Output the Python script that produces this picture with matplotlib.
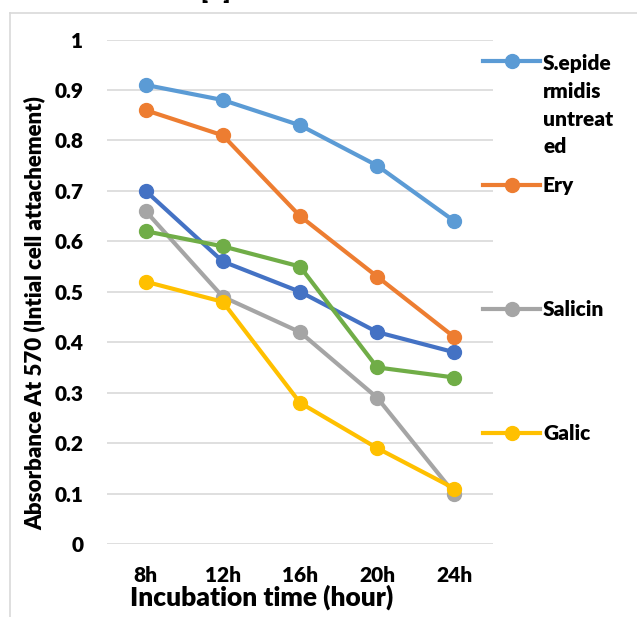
import matplotlib
matplotlib.use('Agg')
import matplotlib.pyplot as plt
from matplotlib.lines import Line2D

plt.rcParams['font.family'] = ['Lato', 'DejaVu Sans']
plt.rcParams['font.weight'] = 'heavy'

# data
hours = ['8h', '12h', '16h', '20h', '24h']
s_epidermidis = [0.91, 0.88, 0.83, 0.75, 0.64]
ery = [0.86, 0.81, 0.65, 0.53, 0.41]
dark_blue_series = [0.70, 0.56, 0.50, 0.42, 0.38]
salicin = [0.66, 0.49, 0.42, 0.29, 0.10]
green_series = [0.62, 0.59, 0.55, 0.35, 0.33]
galic = [0.52, 0.48, 0.28, 0.19, 0.11]

legend_labels = ['S.epide\nrmidis\nuntreat\ned', 'Ery', 'Salicin', 'Galic']
legend_colors = ['#5B9BD5', '#ED7D31', '#A5A5A5', '#FFC000']

W, H = 637, 617
fig = plt.figure(figsize=(W / 100, H / 100), dpi=100)
ax = fig.add_axes([107 / W, 73 / H, 386 / W, 504.5 / H])

x = range(len(hours))
series = [(dark_blue_series, '#4472C4'), (ery, '#ED7D31'), (salicin, '#A5A5A5'),
          (galic, '#FFC000'), (s_epidermidis, '#5B9BD5'), (green_series, '#70AD47')]
for i, (vals, col) in enumerate(series):
    ax.plot(x, vals, color=col, lw=3, marker='o', ms=10, clip_on=False, zorder=3 + i)

ax.set_xlim(-0.5, len(hours) - 0.5)
ax.set_ylim(0, 1)
ax.set_yticks([i / 10 for i in range(11)])
ax.set_yticklabels(['0'] + ['0.%d' % i for i in range(1, 10)] + ['1'])
ax.set_xticks(list(x))
ax.set_xticklabels(hours)
ax.tick_params(axis='both', length=0, labelsize=15)
ax.tick_params(axis='y', pad=17)
ax.tick_params(axis='x', pad=16)
ax.grid(axis='y', color='#D9D9D9', lw=1.2)
ax.set_axisbelow(True)
for sp in ax.spines.values():
    sp.set_visible(False)

fig.text(35 / W, 1 - 313 / H, 'Absorbance At 570 (Intial cell attachement)',
         rotation=90, ha='center', va='center', fontsize=16)
fig.text(262 / W, 1 - 606 / H, 'Incubation time (hour)', ha='center',
         va='baseline', fontsize=19)

# legend drawn by hand, as in the source
leg_y = [60.7, 185, 309, 433]
for lab, col, yy in zip(legend_labels, legend_colors, leg_y):
    fy = 1 - yy / H
    fig.add_artist(Line2D([483 / W, 540 / W], [fy, fy], color=col, lw=3))
    fig.add_artist(Line2D([512 / W], [fy], color=col, marker='o', ms=10))
    if '\n' in lab:
        fig.text(543 / W, 1 - 54 / H, lab, ha='left', va='top', fontsize=15,
                 linespacing=1.55)
    else:
        fig.text(543 / W, fy, lab, ha='left', va='center', fontsize=15)

# chart frame and clipped title
fig.add_artist(Line2D([10 / W, 10 / W], [0, 1 - 13 / H], color='#D9D9D9', lw=1.2))
fig.add_artist(Line2D([10 / W, 1], [1 - 13 / H, 1 - 13 / H], color='#D9D9D9', lw=1.2))
fig.text(216 / W, 1 + 1 / H, '[...]', ha='center', va='baseline', fontsize=16)

fig.savefig('out.png', dpi=100)
